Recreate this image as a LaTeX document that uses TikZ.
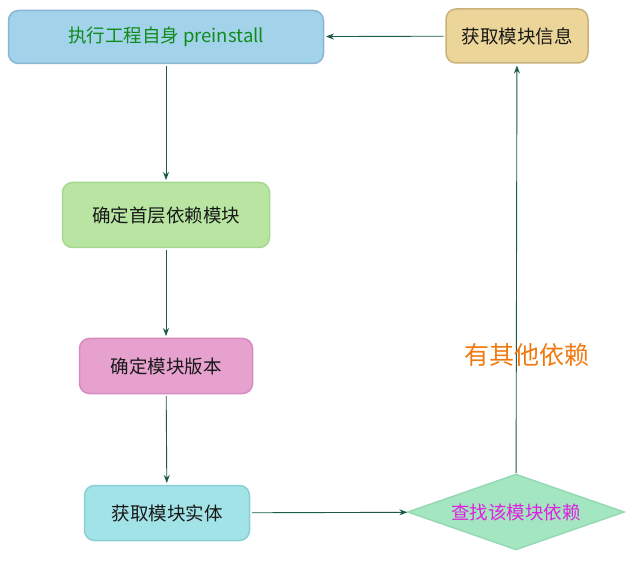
\documentclass[tikz,border=0pt]{standalone}
\usepackage{fontspec}
\usepackage{xcolor}
\usetikzlibrary{shapes.geometric, arrows.meta}
\newfontfamily\cjk{Noto Sans CJK SC}

\definecolor{linegreen}{HTML}{1B5C45}
\definecolor{bluefill}{HTML}{A3D3EA}
\definecolor{blueline}{HTML}{8AB6D3}
\definecolor{sandfill}{HTML}{ECD598}
\definecolor{sandline}{HTML}{C9B27A}
\definecolor{greenfill}{HTML}{B8E6A2}
\definecolor{greenline}{HTML}{A6D890}
\definecolor{pinkfill}{HTML}{E7A1CF}
\definecolor{pinkline}{HTML}{D58BBF}
\definecolor{cyanfill}{HTML}{A2E3E8}
\definecolor{cyanline}{HTML}{8ACFD6}
\definecolor{mintfill}{HTML}{A4E6C2}
\definecolor{mintline}{HTML}{96D9B5}

\begin{document}
\begin{tikzpicture}[>={Stealth[length=8pt, width=6pt]}, x=1pt, y=-1pt,
    font=\cjk\fontsize{18.5}{21}\selectfont,
    box/.style={rounded corners=10pt, line width=1.5pt, inner sep=0pt, outer sep=2.5pt, text=black!90},
    flow/.style={->, linegreen, line width=0.9pt}]
  \useasboundingbox (0,0) rectangle (640,577);

  % boxes
  \node[box, fill=bluefill, draw=blueline, minimum width=315pt, minimum height=53pt, text={rgb,255:red,17;green,138;blue,28}] (run) at (166,37) {执行工程自身 preinstall};
  \node[box, fill=sandfill, draw=sandline, minimum width=142pt, minimum height=54pt] (info) at (517,36) {获取模块信息};
  \node[box, fill=greenfill, draw=greenline, minimum width=207pt, minimum height=65pt] (first) at (166,215) {确定首层依赖模块};
  \node[box, fill=pinkfill, draw=pinkline, minimum width=173pt, minimum height=55pt] (version) at (166,366) {确定模块版本};
  \node[box, fill=cyanfill, draw=cyanline, minimum width=165pt, minimum height=55pt] (entity) at (167,513) {获取模块实体};
  \node[diamond, fill=mintfill, draw=mintline, line width=1.5pt, inner sep=0pt, outer sep=1pt, aspect=2.85, minimum width=217pt, minimum height=76pt, text={rgb,255:red,224;green,31;blue,224}] (find) at (516,512) {查找该模块依赖};

  % connectors
  \draw[flow] (run) -- (first);
  \draw[flow] (first) -- (version);
  \draw[flow] (version) -- (entity);
  \draw[flow] (entity) -- (find);
  \draw[flow] (find) -- node[pos=0.29, xshift=11pt, font=\cjk\fontsize{25}{28}\selectfont, text={rgb,255:red,240;green,122;blue,16}] (more) {有其他依赖} (info);
  \draw[flow] (info) -- (run);
\end{tikzpicture}
\end{document}
